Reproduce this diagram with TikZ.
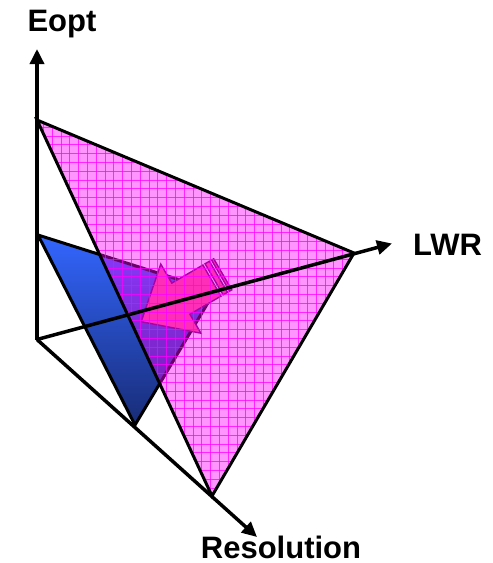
\documentclass[tikz,border=0pt]{standalone}
\usepackage{fontspec}
\setmainfont{Liberation Sans}
\usetikzlibrary{arrows.meta}
\definecolor{bluetop}{RGB}{51,102,255}
\definecolor{bluebot}{RGB}{24,44,118}
\definecolor{mag}{RGB}{255,0,255}
\definecolor{arrowfill}{RGB}{255,80,135}
\definecolor{arrowline}{RGB}{110,0,110}
\tikzset{
  axisline/.style={line width=3.5pt, -{Triangle[length=15pt,width=14pt]}},
  edgeline/.style={line width=3pt, line join=miter},
  lbl/.style={font=\fontsize{31}{36}\selectfont\bfseries, anchor=base, inner sep=0pt},
  pinkfill/.style={fill=mag, fill opacity=0.42},
  gridline/.style={draw=mag, line width=0.75pt, opacity=0.75},
  blockarrow/.style={fill=arrowfill, draw=arrowline, line width=1.4pt, line join=miter}
}
\begin{document}
\begin{tikzpicture}[x=1pt,y=-1pt]
\useasboundingbox (0,0) rectangle (493,563);
% points
\coordinate (O) at (37,339.5);
\coordinate (Et) at (37,49);
\coordinate (Lt) at (392,243.5);
\coordinate (Rt) at (257,537);
\coordinate (E1) at (37,120);
\coordinate (L1) at (354,253);
\coordinate (R1) at (212,496);
\coordinate (E2) at (38,235);
\coordinate (L2) at (215,291);
\coordinate (R2) at (135,425);
% blue plane
\shade[top color=bluetop, bottom color=bluebot] (E2) -- (L2) -- (R2) -- cycle;
\draw[edgeline] (E2) -- (L2) -- (R2) -- cycle;
% block arrow (striped)
\coordinate (Aap) at (141.19,321.69);
\coordinate (Ab1) at (160.77,264.09);
\coordinate (Aj1) at (171.81,283.10);
\coordinate (As1) at (202.91,265.03);
\coordinate (As2) at (220.99,296.13);
\coordinate (Aj2) at (189.89,314.20);
\coordinate (Ab2) at (200.93,333.21);
\draw[blockarrow] (Aap) -- (Ab1) -- (Aj1) -- (As1) -- (As2) -- (Aj2) -- (Ab2) -- cycle;
\draw[blockarrow] (205.07,263.77) -- (209.39,261.26) -- (227.47,292.36) -- (223.15,294.87) -- cycle;
\draw[blockarrow] (211.55,260.01) -- (213.71,258.75) -- (231.79,289.85) -- (229.63,291.11) -- cycle;
% pink plane
\fill[pinkfill] (E1) -- (L1) -- (R1) -- cycle;
\begin{scope}
  \clip (E1) -- (L1) -- (R1) -- cycle;
  \foreach \i in {-8,...,29} \draw[gridline] (105+8.8*\i,100) -- (105+8.8*\i,520);
  \foreach \j in {-13,...,32} \draw[gridline] (20,224+8.8*\j) -- (380,224+8.8*\j);
\end{scope}
\draw[edgeline] (E1) -- (L1) -- (R1) -- cycle;
% axes
\draw[axisline] (O) -- (Et);
\draw[axisline] (O) -- (Lt);
\draw[axisline] (O) -- (Rt);
% labels
\node[lbl] (eopt) at (62,31.7) {Eopt};
\node[lbl] (lwr) at (447.5,255) {LWR};
\node[lbl] (res) at (281,558) {Resolution};
\end{tikzpicture}
\end{document}
